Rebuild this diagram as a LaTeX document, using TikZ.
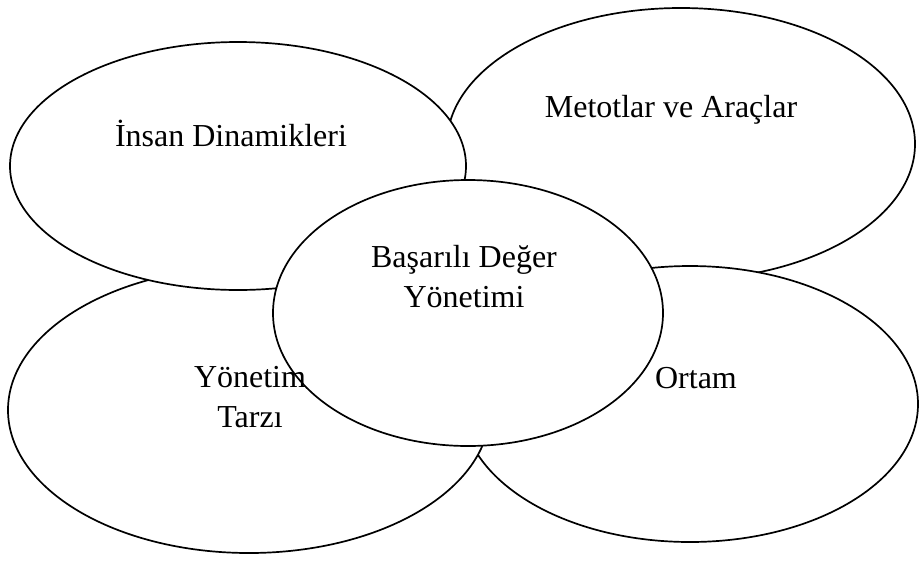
\documentclass[tikz,border=0pt]{standalone}
\usepackage{fontspec}
\setmainfont{Liberation Serif}
\usetikzlibrary{shapes.geometric}
\begin{document}
\begin{tikzpicture}[x=1pt,y=-1pt,
  oval/.style={draw=black,line width=1.7pt,fill=white,ellipse,inner sep=0pt},
  lbl/.style={font=\fontsize{32}{40}\selectfont,align=center,inner sep=0pt}]
\useasboundingbox (0,0) rectangle (920,563);
\node[oval,minimum width=468pt,minimum height=272pt] (tr) at (681,144) {};
\node[oval,minimum width=456pt,minimum height=276pt] (br) at (690,404) {};
\node[oval,minimum width=482pt,minimum height=286pt] (bl) at (249,410) {};
\node[oval,minimum width=456pt,minimum height=248pt] (tl) at (238,166) {};
\node[oval,minimum width=390pt,minimum height=266pt] (c) at (468,313) {};
\node[lbl] (ttl) at (231,133) {İnsan Dinamikleri};
\node[lbl] (ttr) at (671,110) {Metotlar ve Araçlar};
\node[lbl] (tc) at (464,277) {Başarılı Değer\\Yönetimi};
\node[lbl] (tbl) at (250,397) {Yönetim\\Tarzı};
\node[lbl] (tbr) at (696,378) {Ortam};
\end{tikzpicture}
\end{document}
